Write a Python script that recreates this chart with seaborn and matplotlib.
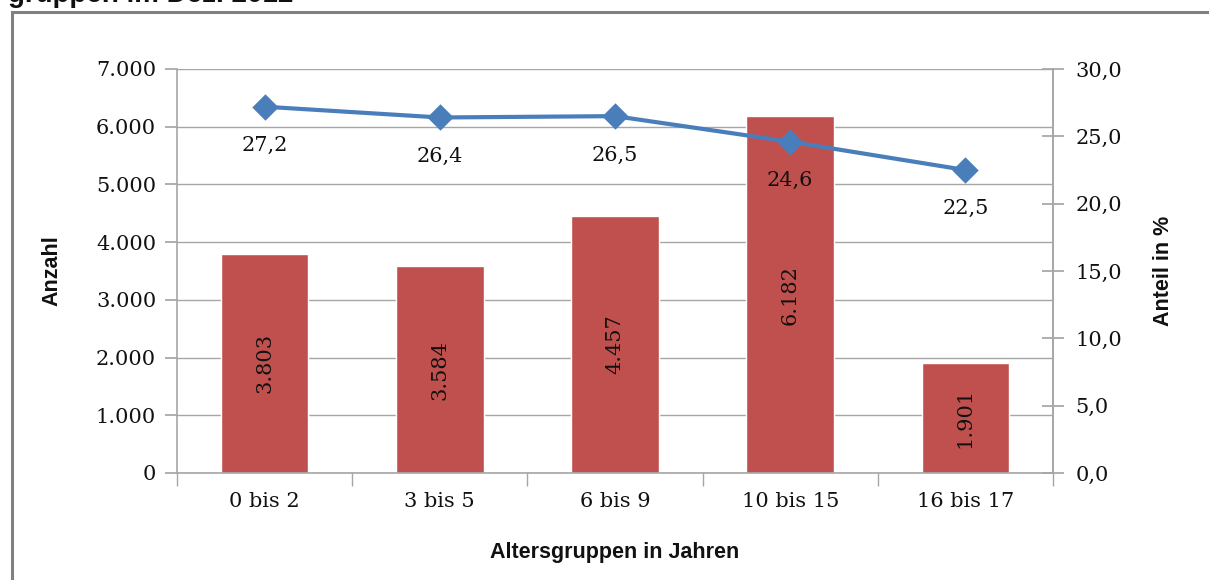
import matplotlib
matplotlib.use("Agg")
import pandas as pd
import matplotlib.pyplot as plt
import seaborn as sns
from matplotlib.patches import Rectangle
from matplotlib.ticker import FuncFormatter, FixedLocator

# Daten
altersgruppen = ['0 bis 2', '3 bis 5', '6 bis 9', '10 bis 15', '16 bis 17']
anzahl = [3803, 3584, 4457, 6182, 1901]
anteil = [27.2, 26.4, 26.5, 24.6, 22.5]

df = pd.DataFrame({'Gruppe': altersgruppen, 'Anzahl': anzahl, 'Anteil': anteil})

sns.set_theme(style="white")
plt.rcParams['text.color'] = '#111111'
plt.rcParams['xtick.color'] = '#111111'
plt.rcParams['ytick.color'] = '#111111'
plt.rcParams['axes.labelcolor'] = '#111111'
serif = ['DejaVu Serif']
sans = ['Liberation Sans', 'DejaVu Sans']

fig = plt.figure(figsize=(12.09, 5.8), dpi=100)
ax1 = fig.add_axes([177 / 1209, 1 - 473 / 580, 876 / 1209, 404 / 580])

rot = '#C0504D'
blau = '#4A7EBB'
grau = '#A6A6A6'

# Balken
sns.barplot(data=df, x='Gruppe', y='Anzahl', color=rot, saturation=1, width=0.5, ax=ax1)
ax1.set_ylim(0, 7000)
ax1.set_xlim(-0.5, 4.5)
ax1.yaxis.set_major_locator(FixedLocator(range(0, 7001, 1000)))
ax1.yaxis.set_major_formatter(FuncFormatter(lambda v, p: f'{int(v):,}'.replace(',', '.')))
ax1.grid(axis='y', color=grau, linewidth=1)
ax1.set_axisbelow(True)

for cont in ax1.containers:
    ax1.bar_label(cont, labels=[f'{v:,}'.replace(',', '.') for v in anzahl],
                  label_type='center', rotation=90, fontsize=15, family=serif, color='#111111')

ax1.set_xlabel('Altersgruppen in Jahren', fontsize=15.5, fontweight='bold', family=sans, labelpad=22)
ax1.set_ylabel('Anzahl', fontsize=15.5, fontweight='bold', family=sans, labelpad=24)
ax1.tick_params(axis='y', labelsize=15, length=9, color=grau, direction='out', pad=6, left=True)
ax1.tick_params(axis='x', labelsize=15, length=0, pad=14)
ax1.set_xticks([i + 0.5 for i in range(-1, 5)], minor=True)
ax1.tick_params(axis='x', which='minor', length=9, color=grau, bottom=True, direction='out')
for lab in ax1.get_xticklabels() + ax1.get_yticklabels():
    lab.set_family(serif)

for s in ['left', 'bottom', 'right']:
    ax1.spines[s].set_color(grau)
    ax1.spines[s].set_linewidth(1.2)
ax1.spines['top'].set_visible(False)

# Linie (Anteil in %)
ax2 = ax1.twinx()
sns.pointplot(data=df, x='Gruppe', y='Anteil', color=blau, marker='D', markersize=11,
              linewidth=3, ax=ax2)
ax2.set_ylim(0, 30)
ax2.set_xlim(-0.5, 4.5)
ax2.yaxis.set_major_locator(FixedLocator([0, 5, 10, 15, 20, 25, 30]))
ax2.yaxis.set_major_formatter(FuncFormatter(lambda v, p: f'{v:.1f}'.replace('.', ',')))
ax2.tick_params(axis='y', labelsize=15, length=16, color=grau, direction='inout', pad=8, right=True)
for lab in ax2.get_yticklabels():
    lab.set_family(serif)
ax2.set_ylabel('Anteil in %', fontsize=15.5, fontweight='bold', family=sans, labelpad=22)
ax2.grid(False)
for s in ['left', 'bottom', 'top']:
    ax2.spines[s].set_visible(False)
ax2.spines['right'].set_color(grau)
ax2.spines['right'].set_linewidth(1.2)

for i, v in enumerate(anteil):
    ax2.annotate(f'{v:.1f}'.replace('.', ','), (i, v), xytext=(0, -28), textcoords='offset points',
                 ha='center', va='center', fontsize=15, family=serif, color='#111111')

# Rahmen und (im Original abgeschnittener) Titel
fig.patches.append(Rectangle((12 / 1209, -0.1), 1.5, 1.1 - 12 / 580, transform=fig.transFigure,
                             fill=False, edgecolor='#808080', linewidth=2.2, zorder=0))
fig.text(8 / 1209, 1 - 2 / 580, 'gruppen im Dez. 2012', fontsize=20, fontweight='bold',
         family=sans, va='baseline', ha='left')

fig.savefig('out.png', dpi=100)
